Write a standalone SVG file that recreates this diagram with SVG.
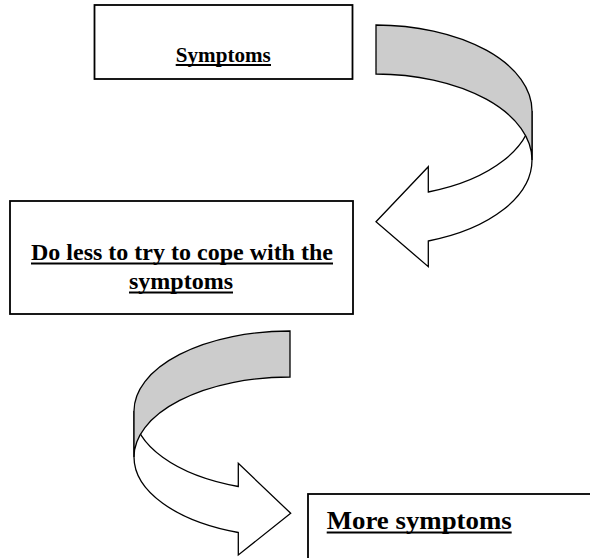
<svg xmlns="http://www.w3.org/2000/svg" width="590" height="558" viewBox="0 0 590 558">
  <style>
    .box { fill: #ffffff; stroke: #000000; stroke-width: 1.8; }
    .lbl { font-family: "Liberation Serif", "Times New Roman", serif; font-weight: bold; fill: #000000; }
    .ul { stroke: #000000; stroke-width: 2.2; }
    .back { fill: #cccccc; stroke: #000000; stroke-width: 1.3; stroke-linejoin: miter; }
    .front { fill: #ffffff; stroke: #000000; stroke-width: 1.3; stroke-linejoin: miter; }
  </style>
  <rect width="590" height="558" fill="#ffffff"/>
  <g id="connectors">
    <g id="arrow-1">
      <path class="front" d="M 532,111 A 156 86 0 0 1 428.3,192 L 428.3,166.7 L 376,221.7 L 428.3,266.7 L 428.3,241 A 156 86 0 0 0 532,160 Z"/>
      <path class="back" d="M 376,25 A 156 86 0 0 1 532,111 L 532,160 A 156 86 0 0 0 376,74 Z"/>
    </g>
    <g id="arrow-2">
      <path class="front" d="M 134,411 A 156 80 0 0 0 238.3,486.5 L 238.3,463.3 L 290.7,513.3 L 238.3,555 L 238.3,532.5 A 156 80 0 0 1 134,457 Z"/>
      <path class="back" d="M 290,331 A 156 80 0 0 0 134,411 L 134,457 A 156 80 0 0 1 290,377 Z"/>
    </g>
  </g>
  <g id="node-symptoms">
    <rect class="box" x="94.5" y="5" width="258" height="74"/>
    <text class="lbl" x="223.3" y="62" font-size="21" text-anchor="middle" textLength="95" lengthAdjust="spacingAndGlyphs">Symptoms</text>
    <line class="ul" x1="175.7" y1="65" x2="271" y2="65"/>
  </g>
  <g id="node-do-less">
    <rect class="box" x="10" y="201" width="343" height="113"/>
    <text class="lbl" x="182" y="260" font-size="24" text-anchor="middle">Do less to try to cope with the</text>
    <line class="ul" x1="31" y1="263.5" x2="333" y2="263.5"/>
    <text class="lbl" x="181" y="289" font-size="24" text-anchor="middle">symptoms</text>
    <line class="ul" x1="129" y1="292.5" x2="233" y2="292.5"/>
  </g>
  <g id="node-more-symptoms">
    <rect class="box" x="308" y="494" width="300" height="100"/>
    <text class="lbl" x="326.7" y="529" font-size="26" textLength="185" lengthAdjust="spacingAndGlyphs">More symptoms</text>
    <line class="ul" x1="326.7" y1="532.5" x2="511.7" y2="532.5"/>
  </g>
</svg>
